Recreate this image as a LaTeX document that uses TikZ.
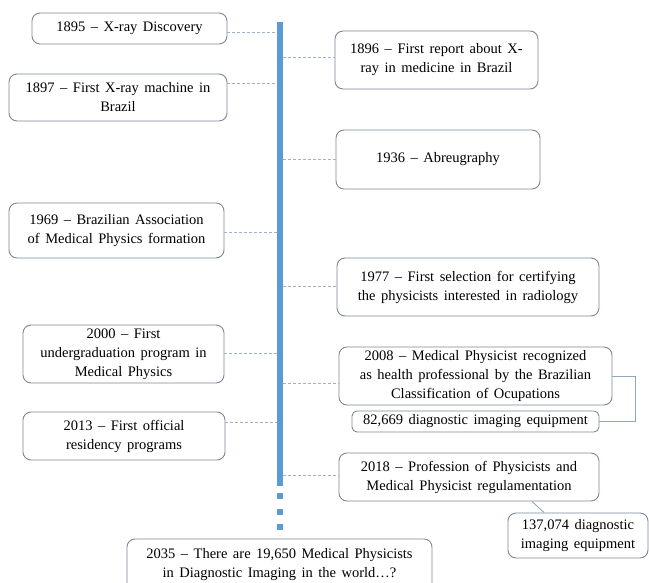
\documentclass[tikz,border=0pt]{standalone}
\usepackage{fontspec}
\setmainfont{Liberation Serif}
\newfontfamily\timesfont{Liberation Serif}
\newcommand\eventfont{\timesfont\fontsize{14.5}{19}\selectfont\spaceskip=0.38em\relax}
\definecolor{barblue}{HTML}{5B9BD5}
\definecolor{boxline}{HTML}{7D8797}
\definecolor{tickline}{HTML}{9FB2C8}
\definecolor{linkline}{HTML}{8EA7C2}
\tikzstyle{event} = [rectangle, rounded corners=8pt, draw=boxline, line width=0.9pt, align=center, inner sep=2pt, font=\eventfont]
\tikzstyle{timeline} = [rectangle, fill=barblue, inner sep=0pt, minimum width=6pt, minimum height=464pt]
\tikzstyle{gapmark} = [rectangle, fill=barblue, inner sep=0pt, minimum size=6pt]
\tikzstyle{tick} = [draw=tickline, line width=0.8pt, dash pattern=on 3pt off 2pt]
\tikzstyle{link} = [draw=linkline, line width=0.9pt]

\begin{document}
\begin{tikzpicture}[x=1pt, y=-1pt]

\clip (0,0) rectangle (649,582);

\node (bar) [timeline] at (280,254) {};
\foreach \i in {1,2,3}
  \node (gap\i) [gapmark] at (280,480.5+15.5*\i) {};

% left column
\node (b1895) [event, minimum width=195pt, minimum height=31pt] at (129.5,28.5) {1895 – X-ray Discovery};
\node (b1897) [event, minimum width=218pt, minimum height=47pt] at (118,97.5) {1897 – First X-ray machine in\\Brazil};
\node (b1969) [event, minimum width=215pt, minimum height=55pt] at (116.5,230.5) {1969 – Brazilian Association\\of Medical Physics formation};
\node (b2000) [event, minimum width=201pt, minimum height=58pt] at (123.5,354) {2000 – First\\undergraduation program in\\Medical Physics};
\node (b2013) [event, minimum width=202pt, minimum height=48pt] at (124,436) {2013 – First official\\residency programs};

% right column
\node (b1896) [event, minimum width=203pt, minimum height=58pt] at (436.5,60) {1896 – First report about X-\\ray in medicine in Brazil};
\node (b1936) [event, minimum width=204pt, minimum height=59pt] at (438,159.5) {1936 – Abreugraphy};
\node (b1977) [event, minimum width=262pt, minimum height=58pt] at (468,287) {1977 – First selection for certifying\\the physicists interested in radiology};
\node (b2008) [event, minimum width=273pt, minimum height=58pt] at (475.5,376) {2008 – Medical Physicist recognized\\as health professional by the Brazilian\\Classification of Ocupations};
\node (b82669) [event, rounded corners=5pt, minimum width=247pt, minimum height=21pt, inner sep=0pt] at (475.5,421.5) {82,669 diagnostic imaging equipment};
\node (b2018) [event, minimum width=260pt, minimum height=48pt] at (469,477) {2018 – Profession of Physicists and\\Medical Physicist regulamentation};
\node (b137074) [event, minimum width=140pt, minimum height=45pt] at (578,535.5) {137,074 diagnostic\\imaging equipment};
\node (b2035) [event, minimum width=305pt, minimum height=52pt] at (279.5,565) {2035 – There are 19,650 Medical Physicists\\in Diagnostic Imaging in the world…?};

% ticks to the timeline
\draw [tick] (b1895.east |- 0,32) -- (bar.west |- 0,32);
\draw [tick] (b1897.east |- 0,83) -- (bar.west |- 0,83);
\draw [tick] (b1969.east |- 0,232) -- (bar.west |- 0,232);
\draw [tick] (b2000.east |- 0,353) -- (bar.west |- 0,353);
\draw [tick] (b2013.east |- 0,422) -- (bar.west |- 0,422);
\draw [tick] (bar.east |- 0,57) -- (b1896.west |- 0,57);
\draw [tick] (bar.east |- 0,159) -- (b1936.west |- 0,159);
\draw [tick] (bar.east |- 0,286) -- (b1977.west |- 0,286);
\draw [tick] (bar.east |- 0,383) -- (b2008.west |- 0,383);
\draw [tick] (bar.east |- 0,475) -- (b2018.west |- 0,475);

% equipment notes
\draw [link] (b2008.east) -- ++(23,0) |- (b82669.east);
\draw [link] ([xshift=63pt]b2018.south) -- ([xshift=-34pt]b137074.north);

\end{tikzpicture}
\end{document}
